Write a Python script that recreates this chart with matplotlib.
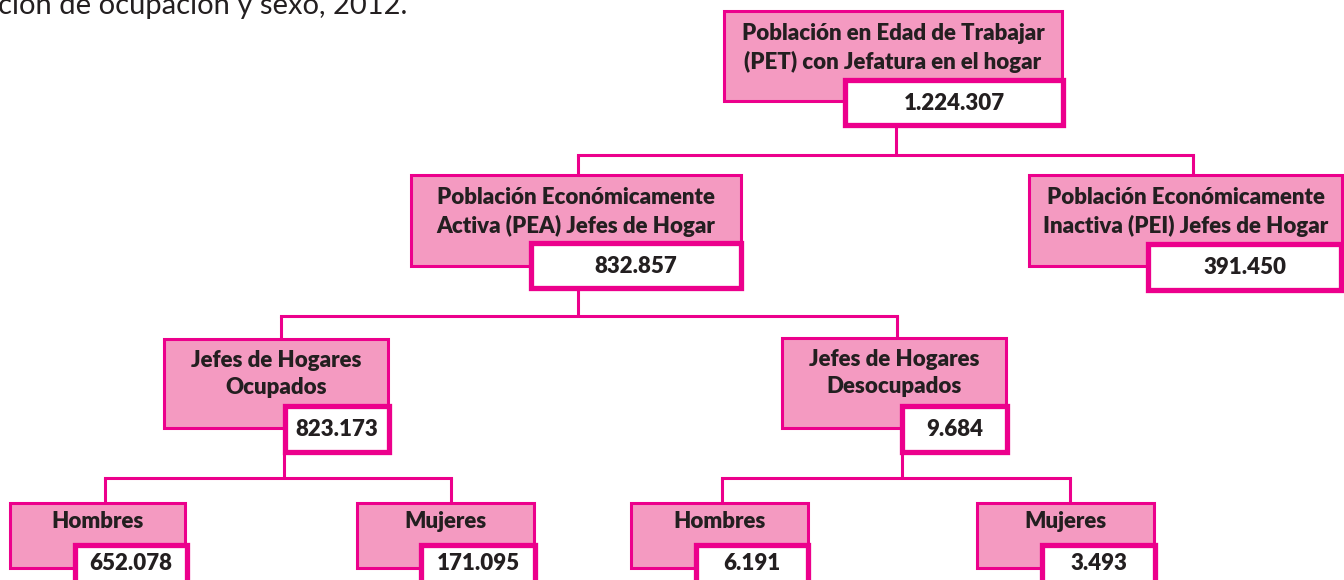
import matplotlib
matplotlib.use("Agg")
import matplotlib.pyplot as plt
from matplotlib.patches import Rectangle

# chart data
labels = [
    "Población en Edad de Trabajar\n(PET) con Jefatura en el hogar",
    "Población Económicamente\nActiva (PEA) Jefes de Hogar",
    "Población Económicamente\nInactiva (PEI) Jefes de Hogar",
    "Jefes de Hogares\nOcupados",
    "Jefes de Hogares\nDesocupados",
    "Hombres",
    "Mujeres",
    "Hombres",
    "Mujeres",
]
values = ["1.224.307", "832.857", "391.450", "823.173", "9.684",
          "652.078", "171.095", "6.191", "3.493"]
parents = [None, 0, 0, 1, 1, 3, 3, 4, 4]
title = "ción de ocupación y sexo, 2012."

# layout in pixels (left, top, right, bottom), y going down
pink_boxes = [
    (724, 11, 1062, 101),
    (411, 175, 741, 266),
    (1029, 175, 1342, 266),
    (164, 339, 388, 428),
    (782, 338, 1006, 428),
    (10, 503, 185, 568),
    (357, 503, 534, 568),
    (631, 503, 808, 568),
    (977, 503, 1154, 568),
]
white_boxes = [
    (845, 80, 1063, 125),
    (531, 243, 741, 288),
    (1148, 244, 1341, 290),
    (285, 406, 389, 452),
    (902, 406, 1007, 452),
    (75, 545, 187, 592),
    (421, 545, 535, 592),
    (696, 545, 808, 592),
    (1042, 545, 1155, 592),
]
label_dy = [37, 37, 37, 35, 35, 18, 18, 18, 18]
# connectors: parent -> (drop x, bar y, child xs)
connectors = {
    0: (896, 155, [578, 1193]),
    1: (578, 316, [281, 897]),
    3: (284, 478, [105, 451]),
    4: (902, 478, [722, 1070]),
}

W, H = 1344, 580
magenta = "#EC008C"
pink = "#F49AC1"
txt = "#231F20"
font = ["Lato", "DejaVu Sans"]

fig = plt.figure(figsize=(W / 100, H / 100), dpi=100)
ax = fig.add_axes([0, 0, 1, 1])
ax.set_xlim(0, W)
ax.set_ylim(H, 0)
ax.axis("off")

# connector lines
for p, (xd, yb, xs) in connectors.items():
    ax.plot([xd, xd], [white_boxes[p][3], yb], color=magenta, lw=2.2,
            solid_capstyle="butt", zorder=1)
    ax.plot([min(xs), max(xs)], [yb, yb], color=magenta, lw=2.2,
            solid_capstyle="projecting", zorder=1)
    for c, xc in zip([i for i, q in enumerate(parents) if q == p], xs):
        ax.plot([xc, xc], [yb, pink_boxes[c][1]], color=magenta, lw=2.2,
                solid_capstyle="butt", zorder=1)

for i, lab in enumerate(labels):
    x0, y0, x1, y1 = pink_boxes[i]
    ax.add_patch(Rectangle((x0, y0), x1 - x0, y1 - y0, facecolor=pink,
                           edgecolor=magenta, lw=2.2, zorder=2))
    ax.text((x0 + x1) / 2, y0 + label_dy[i], lab, ha="center", va="center",
            fontsize=16, fontweight="heavy", color=txt, family=font,
            linespacing=1.35, zorder=4)
    wx0, wy0, wx1, wy1 = white_boxes[i]
    ax.add_patch(Rectangle((wx0, wy0), wx1 - wx0, wy1 - wy0, facecolor="white",
                           edgecolor=magenta, lw=3.8, zorder=3))
    ax.text((wx0 + wx1) / 2, (wy0 + min(wy1, H)) / 2 + 1, values[i],
            ha="center", va="center", fontsize=16, fontweight="heavy",
            color=txt, family=font, zorder=4)

ax.text(-2, 14, title, ha="left", va="baseline", fontsize=21, color=txt,
        family=font)

fig.savefig("out.png", dpi=100)
